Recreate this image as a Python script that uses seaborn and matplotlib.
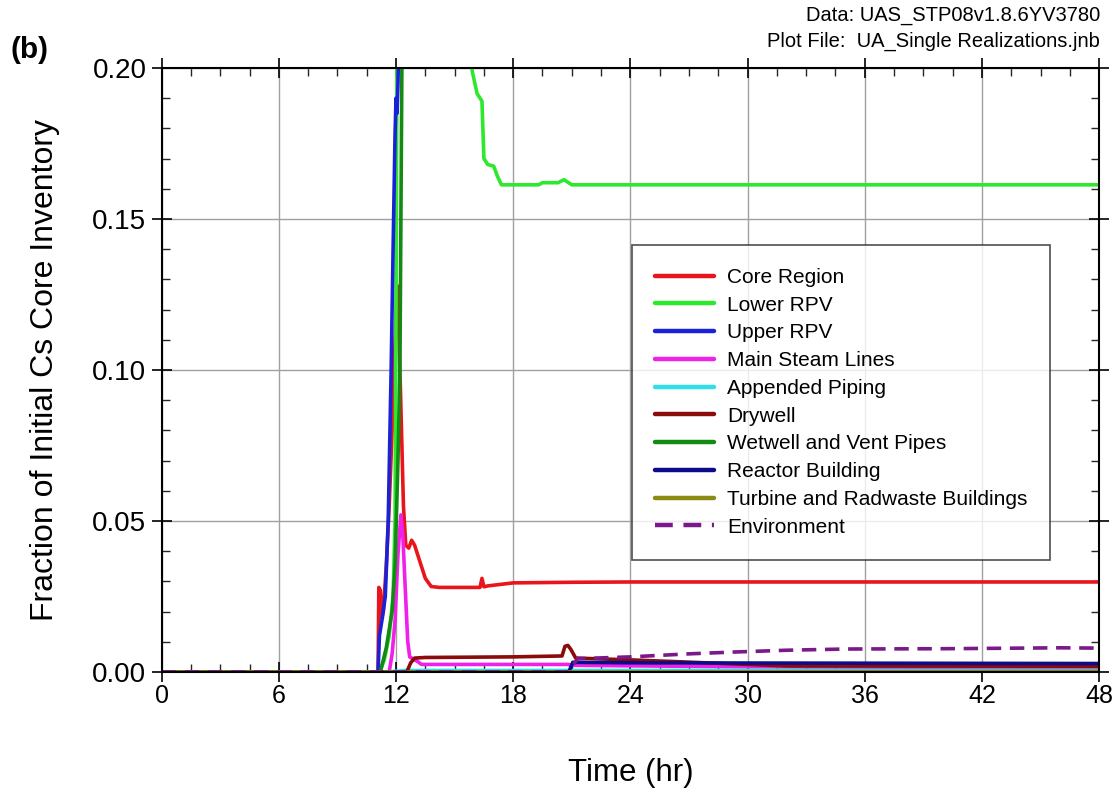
import numpy as np
import pandas as pd
import matplotlib
matplotlib.use('Agg')
import matplotlib.pyplot as plt
from matplotlib.ticker import MultipleLocator
import seaborn as sns

# compartment names (legend order) and colours
names = ['Core Region', 'Lower RPV', 'Upper RPV', 'Main Steam Lines', 'Appended Piping',
         'Drywell', 'Wetwell and Vent Pipes', 'Reactor Building',
         'Turbine and Radwaste Buildings', 'Environment']
colors = ['#e8161b', '#2ee82e', '#1a22d8', '#f020e8', '#30e0e8',
          '#8b0a0a', '#138a13', '#0c0c8a', '#8a8a14', '#7a1a8a']

# values (time in hr, fraction of initial Cs inventory)
core_t = [0, 11.08, 11.12, 11.2, 11.27, 11.35, 11.5, 11.65, 11.8, 11.95, 12.05, 12.1, 12.15,
          12.22, 12.3, 12.38, 12.5, 12.65, 12.8, 12.95, 13.2, 13.5, 13.8, 14.2, 16.3, 16.4,
          16.5, 16.7, 18.0, 21.0, 24.0, 48.0]
core_v = [0, 0, 0.028, 0.027, 0.018, 0.02, 0.035, 0.055, 0.08, 0.11, 0.128, 0.12, 0.11,
          0.095, 0.075, 0.055, 0.042, 0.041, 0.0436, 0.042, 0.037, 0.031, 0.0283, 0.028, 0.028, 0.031,
          0.0282, 0.0285, 0.0295, 0.0297, 0.0298, 0.0298]

lower_t = [0, 11.15, 11.4, 11.65, 11.85, 11.95, 12.0, 12.05, 12.3, 15.5, 15.75, 15.9, 16.15,
           16.4, 16.5, 16.7, 17.0, 17.2, 17.4, 19.3, 19.5, 20.3, 20.6, 21.0, 48]
lower_v = [0, 0, 0.004, 0.012, 0.025, 0.05, 0.12, 0.21, 0.3, 0.3, 0.21, 0.199, 0.1915,
           0.189, 0.17, 0.168, 0.1675, 0.164, 0.1613, 0.1613, 0.162, 0.162, 0.163, 0.1613, 0.1613]

upper_t = [0, 11.08, 11.15, 11.3, 11.45, 11.6, 11.75, 11.85, 11.95, 12.0, 12.05, 12.1, 12.2, 12.4, 48]
upper_v = [0, 0, 0.012, 0.018, 0.025, 0.05, 0.1, 0.14, 0.178, 0.19, 0.185, 0.195, 0.23, 0.3, 0.3]

msl_t = [0, 11.65, 11.8, 11.95, 12.1, 12.25, 12.35, 12.47, 12.6, 12.7, 12.9, 13.1, 13.3,
         20.8, 21.0, 30, 48]
msl_v = [0, 0, 0.006, 0.017, 0.039, 0.052, 0.045, 0.028, 0.01, 0.005, 0.0042, 0.0035, 0.0025,
         0.0025, 0.0022, 0.0017, 0.0014]

pipe_t = [0, 11.5, 12.5, 48]
pipe_v = [0, 0, 0.0005, 0.0005]

dry_t = [0, 12.55, 12.75, 12.95, 13.5, 18, 20.5, 20.65, 20.8, 20.95, 21.2, 24, 28, 32, 48]
dry_v = [0, 0, 0.003, 0.0046, 0.0048, 0.005, 0.0053, 0.0085, 0.0088, 0.0075, 0.0046, 0.004,
         0.003, 0.002, 0.0019]

wet_t = [0, 11.2, 11.5, 11.8, 11.95, 12.1, 12.2, 12.3, 12.4, 48]
wet_v = [0, 0, 0.008, 0.02, 0.035, 0.07, 0.1, 0.2, 0.3, 0.3]

rb_t = [0, 20.85, 21.05, 25, 48]
rb_v = [0, 0, 0.0032, 0.003, 0.0028]

turb_t = [0, 21, 48]
turb_v = [0, 0, 0.0002]

env_t = [0, 20.8, 21.3, 24, 27, 29.3, 32, 35, 40, 46, 48]
env_v = [0, 0, 0.0044, 0.005, 0.006, 0.0066, 0.0072, 0.0076, 0.0077, 0.008, 0.0079]

series_t = [core_t, lower_t, upper_t, msl_t, pipe_t, dry_t, wet_t, rb_t, turb_t, env_t]
series_v = [core_v, lower_v, upper_v, msl_v, pipe_v, dry_v, wet_v, rb_v, turb_v, env_v]

frames = []
for n, t, v in zip(names, series_t, series_v):
    frames.append(pd.DataFrame({'Time': t, 'Fraction': v, 'Compartment': n}))
df = pd.concat(frames, ignore_index=True)

sns.set_style('ticks')
plt.rcParams['font.family'] = ['Liberation Sans', 'DejaVu Sans']
plt.rcParams['text.color'] = 'black'
plt.rcParams['axes.labelcolor'] = 'black'

fig = plt.figure(figsize=(11.18, 7.9), dpi=100)
ax = fig.add_axes([0.1446, 0.1494, 0.8385, 0.7646])

dashes = {n: '' for n in names}
dashes['Environment'] = (4, 2.4)
sns.lineplot(data=df, x='Time', y='Fraction', hue='Compartment', style='Compartment',
             hue_order=names, style_order=names, palette=dict(zip(names, colors)),
             dashes=dashes, estimator=None, sort=False, lw=2.6, ax=ax)

ax.set_xlim(0, 48)
ax.set_ylim(0, 0.2)
ax.xaxis.set_major_locator(MultipleLocator(6))
ax.xaxis.set_minor_locator(MultipleLocator(1.5))
ax.yaxis.set_major_locator(MultipleLocator(0.05))
ax.yaxis.set_minor_locator(MultipleLocator(0.01))
ax.yaxis.set_major_formatter(matplotlib.ticker.FormatStrFormatter('%.2f'))
ax.grid(True, which='major', color='#a0a0a0', lw=1.0)
ax.set_axisbelow(True)
ax.tick_params(which='major', direction='inout', length=14, width=1.2, top=True, right=True,
               colors='black')
ax.tick_params(which='minor', direction='in', length=5.5, width=1.0, top=True, right=True)
ax.tick_params(axis='x', which='major', labelsize=18, pad=1.5)
ax.tick_params(axis='y', which='major', labelsize=20, pad=4)
for s in ax.spines.values():
    s.set_linewidth(1.5)
    s.set_color('black')

ax.set_xlabel('Time (hr)', fontsize=22.5, labelpad=36, color='black')
ax.set_ylabel('Fraction of Initial Cs Core Inventory', fontsize=23, labelpad=23, color='black')

sns.move_legend(ax, 'upper left', bbox_to_anchor=(0.502, 0.707), title=None,
                frameon=True, fancybox=False, fontsize=15, handlelength=2.8,
                labelspacing=0.42, borderpad=1.1, handletextpad=0.65, borderaxespad=0)
leg = ax.get_legend()
leg.get_frame().set_edgecolor('#222222')
leg.get_frame().set_linewidth(1.2)
for h in leg.legend_handles:
    h.set_linewidth(3.2)
for txt in leg.get_texts():
    txt.set_color('black')

fig.text(0.009, 0.937, '(b)', fontsize=21.5, fontweight='bold', va='center', ha='left')
fig.text(0.984, 0.981, 'Data: UAS_STP08v1.8.6YV3780', fontsize=14.5, ha='right', va='center')
fig.text(0.984, 0.948, 'Plot File:  UA_Single Realizations.jnb', fontsize=14.5, ha='right', va='center')

fig.savefig('out.png', dpi=100)
